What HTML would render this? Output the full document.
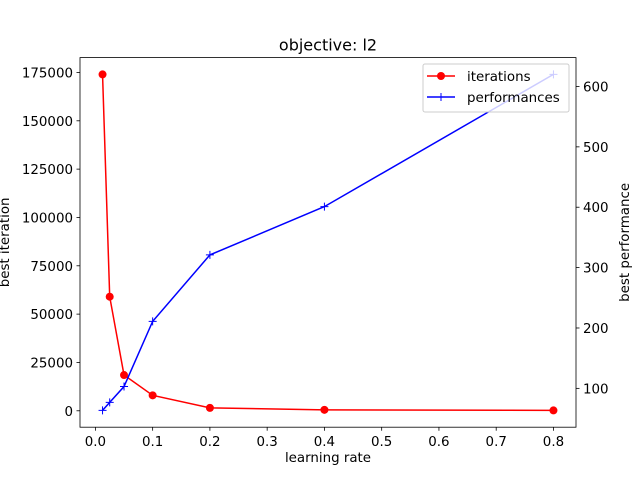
<!DOCTYPE html>
<html><head><meta charset="utf-8"><style>body{margin:0;background:#fff}svg{font-family:"DejaVu Sans","Liberation Sans",sans-serif}</style></head>
<body>
<svg id="c" width="640" height="480" xmlns="http://www.w3.org/2000/svg"></svg>
<script>
const lr = [0.0125, 0.025, 0.05, 0.1, 0.2, 0.4, 0.8];
const iterations = [174000, 59000, 18500, 8000, 1500, 500, 200];
const performances = [63.5, 76.7, 103, 211, 321, 401, 620];
const xTicks = [0.0, 0.1, 0.2, 0.3, 0.4, 0.5, 0.6, 0.7, 0.8];
const yLTicks = [0, 25000, 50000, 75000, 100000, 125000, 150000, 175000];
const yRTicks = [100, 200, 300, 400, 500, 600];

const NS = "http://www.w3.org/2000/svg";
const svg = document.getElementById('c');
const L = 80, R = 576, T = 57.6, B = 427.2;
const FS = 13.4;
function ext(a){const mn=Math.min(...a),mx=Math.max(...a),m=(mx-mn)*0.05;return [mn-m,mx+m];}
const [x0,x1]=ext(lr),[l0,l1]=ext(iterations),[r0,r1]=ext(performances);
const X=v=>L+(v-x0)/(x1-x0)*(R-L);
const YL=v=>B-(v-l0)/(l1-l0)*(B-T);
const YR=v=>B-(v-r0)/(r1-r0)*(B-T);
function el(tag,attrs,name,text){const e=document.createElementNS(NS,tag);for(const k in attrs)e.setAttribute(k,attrs[k]);


if(text!==undefined)e.textContent=text;svg.appendChild(e);return e;}
function txt(x,y,s,anchor,name,extra){return el('text',Object.assign({x:x,y:y,'font-size':FS,'text-anchor':anchor,fill:'#000'},extra||{}),name,s);}

xTicks.forEach(t=>{const x=X(t);el('line',{x1:x,x2:x,y1:B,y2:B+3.5,stroke:'#000','stroke-width':0.8},'x-tick');
txt(x,B+19,t.toFixed(1),'middle','x-tick-label');});
yLTicks.forEach(t=>{const y=YL(t);el('line',{x1:L-3.5,x2:L,y1:y,y2:y,stroke:'#000','stroke-width':0.8},'y-left-tick');
txt(L-7,y+5,String(t),'end','y-left-tick-label');});
yRTicks.forEach(t=>{const y=YR(t);el('line',{x1:R,x2:R+3.5,y1:y,y2:y,stroke:'#000','stroke-width':0.8},'y-right-tick');
txt(R+7,y+5,String(t),'start','y-right-tick-label');});

el('polyline',{points:lr.map((v,i)=>X(v)+','+YL(iterations[i])).join(' '),fill:'none',stroke:'red','stroke-width':1.5},'iterations-line');
lr.forEach((v,i)=>el('circle',{cx:X(v),cy:YL(iterations[i]),r:4,fill:'red'},'iterations-point'));
el('polyline',{points:lr.map((v,i)=>X(v)+','+YR(performances[i])).join(' '),fill:'none',stroke:'blue','stroke-width':1.5},'performances-line');
lr.forEach((v,i)=>{const x=X(v),y=YR(performances[i]);
el('path',{d:`M${x-4},${y}H${x+4}M${x},${y-4}V${y+4}`,stroke:'blue','stroke-width':1},'performances-point');});

el('rect',{x:L,y:T,width:R-L,height:B-T,fill:'none',stroke:'#000','stroke-width':0.8},'plot-frame');
txt((L+R)/2,T-7,'objective: l2','middle','chart-title',{'font-size':16});
txt((L+R)/2,B+35,'learning rate','middle','x-axis-title');
txt(0,0,'best iteration','middle','y-left-axis-title',{transform:`translate(${9},${(T+B)/2}) rotate(-90)`});
txt(0,0,'best performance','middle','y-right-axis-title',{transform:`translate(${629},${(T+B)/2}) rotate(-90)`});

el('rect',{x:423,y:64,width:146,height:48,rx:2,fill:'#fff','fill-opacity':0.8,stroke:'#ccc','stroke-width':1},'legend-box');
el('line',{x1:427,x2:455,y1:76,y2:76,stroke:'red','stroke-width':1.5},'legend-iterations-line');
el('circle',{cx:441,cy:76,r:4,fill:'red'},'legend-iterations-marker');
txt(467,81,'iterations','start','legend-iterations-label');
el('line',{x1:427,x2:455,y1:97,y2:97,stroke:'blue','stroke-width':1.5},'legend-performances-line');
el('path',{d:'M437,97H445M441,93V101',stroke:'blue','stroke-width':1},'legend-performances-marker');
txt(467,102,'performances','start','legend-performances-label');
</script>
</body></html>
